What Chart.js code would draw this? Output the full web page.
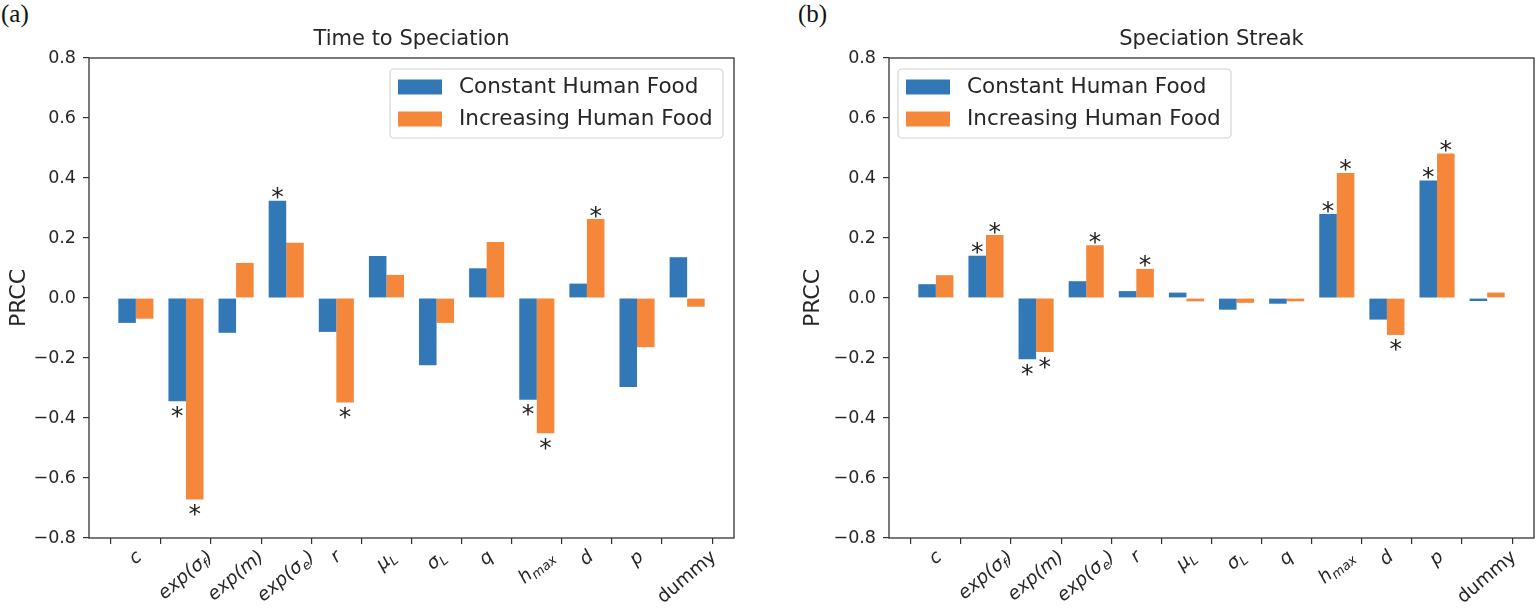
<!DOCTYPE html>
<html>
<head>
<meta charset="utf-8">
<script src="https://cdn.jsdelivr.net/npm/chart.js@4.4.1/dist/chart.umd.min.js"></script>
<style>
  body { margin: 0; background: #fff; width: 1536px; height: 608px; position: relative; overflow: hidden; }
  canvas { position: absolute; top: 0; }
  .panel { position: absolute; top: 0; font-family: "Liberation Serif", serif; font-size: 25px; color: #111; }
</style>
</head>
<body>
<div class="panel" style="left:1px;">(a)</div>
<div class="panel" style="left:798px;">(b)</div>
<canvas id="speciation" width="768" height="608" style="left:0"></canvas>
<canvas id="streak" width="768" height="608" style="left:768px"></canvas>
<script>
// parametres (axe x), underscore = indice
let params = ['c', 'exp(σ_f)', 'exp(m)', 'exp(σ_e)', 'r', 'μ_L', 'σ_L', 'q', 'h_{max}', 'd', 'p', 'dummy'];
let seriesNames = ['Constant Human Food', 'Increasing Human Food'];

// Time to Speciation
let timeConst = [-0.083, -0.344, -0.116, 0.324, -0.113, 0.140, -0.224, 0.099, -0.339, 0.048, -0.297, 0.136];
let timeIncr  = [-0.069, -0.672, 0.117, 0.184, -0.348, 0.077, -0.083, 0.187, -0.451, 0.263, -0.164, -0.029];
let timeSigConst = [0, 1, 0, 1, 0, 0, 0, 0, 1, 0, 0, 0];
let timeSigIncr  = [0, 1, 0, 0, 1, 0, 0, 0, 1, 1, 0, 0];

// Speciation Streak
let streakConst = [0.046, 0.141, -0.204, 0.056, 0.023, 0.018, -0.039, -0.019, 0.280, -0.072, 0.392, -0.010];
let streakIncr  = [0.076, 0.210, -0.180, 0.176, 0.097, -0.011, -0.016, -0.011, 0.417, -0.123, 0.482, 0.018];
let streakSigConst = [0, 1, 1, 0, 0, 0, 0, 0, 1, 0, 1, 0];
let streakSigIncr  = [0, 1, 1, 1, 1, 0, 0, 0, 1, 1, 1, 0];

let yTicks = [-0.8, -0.6, -0.4, -0.2, 0, 0.2, 0.4, 0.6, 0.8];

const BLUE = '#3378b6';
const ORANGE = '#f5873a';
const INK = '#262626';
Chart.defaults.font.family = '"DejaVu Sans", sans-serif';

// decoupe 'h_{max}' -> [{t:'h'}, {t:'max', sub:true}]
function parseLabel(lab) {
    let out = [];
    let i = 0;
    while (i < lab.length) {
        if (lab[i] === '_') {
            if (lab[i + 1] === '{') {
                let end = lab.indexOf('}', i);
                out.push({ t: lab.slice(i + 2, end), sub: true });
                i = end + 1;
            } else {
                out.push({ t: lab[i + 1], sub: true });
                i += 2;
            }
        } else {
            let j = i;
            while (j < lab.length && lab[j] !== '_') j++;
            out.push({ t: lab.slice(i, j), sub: false });
            i = j;
        }
    }
    return out;
}

// label incline 40deg, centre sous le tick (comme matplotlib rotation + ha=center)
function drawTickLabel(ctx, lab, x, top) {
    const size = 18.5;
    const italic = lab !== 'dummy' ? 'italic ' : '';
    const main = italic + size + 'px "DejaVu Sans"';
    const small = italic + Math.round(size * 0.7) + 'px "DejaVu Sans"';
    const segs = parseLabel(lab);
    let w = 0;
    segs.forEach(s => { ctx.font = s.sub ? small : main; s.w = ctx.measureText(s.t).width; w += s.w; });
    const h = size * 0.95;
    const th = 40 * Math.PI / 180;
    const H = w * Math.sin(th) + h * Math.cos(th);
    ctx.save();
    ctx.translate(x, top + H / 2);
    ctx.rotate(-th);
    ctx.fillStyle = INK;
    ctx.textAlign = 'left';
    ctx.textBaseline = 'middle';
    let cx = -w / 2;
    segs.forEach(s => {
        ctx.font = s.sub ? small : main;
        ctx.fillText(s.t, cx, s.sub ? size * 0.28 : 0);
        cx += s.w;
    });
    ctx.restore();
}

const decor = {
    id: 'decor',
    afterDraw(chart, args, opts) {
        const ctx = chart.ctx;
        const a = chart.chartArea;
        ctx.save();
        // cadre
        ctx.strokeStyle = '#333';
        ctx.lineWidth = 1.3;
        ctx.strokeRect(a.left, a.top, a.right - a.left, a.bottom - a.top);

        // titre
        ctx.fillStyle = INK;
        ctx.font = '21px "DejaVu Sans"';
        ctx.textAlign = 'center';
        ctx.textBaseline = 'middle';
        ctx.fillText(opts.title, (a.left + a.right) / 2, 40);

        // labels de l'axe x
        const xs = chart.scales.x;
        params.forEach((lab, i) => drawTickLabel(ctx, lab, xs.getPixelForValue(i), a.bottom + 10));

        // etoiles de significativite
        ctx.font = '25px "DejaVu Sans"';
        ctx.textAlign = 'center';
        ctx.textBaseline = 'alphabetic';
        ctx.fillStyle = '#222';
        chart.data.datasets.forEach((ds, d) => {
            const meta = chart.getDatasetMeta(d);
            ds.sig.forEach((s, i) => {
                if (!s) return;
                const bar = meta.data[i];
                const cy = ds.data[i].y >= 0 ? bar.y - 10 : bar.y + 8;
                ctx.fillText('*', bar.x, cy + 14.5);
            });
        });

        // legende
        const lw = 333, lh = 69;
        const lx = opts.legend === 'right' ? a.right - 11 - lw : a.left + 9;
        const ly = a.top + 11;
        ctx.beginPath();
        if (ctx.roundRect) ctx.roundRect(lx, ly, lw, lh, 4); else ctx.rect(lx, ly, lw, lh);
        ctx.fillStyle = 'rgba(255,255,255,0.85)';
        ctx.fill();
        ctx.strokeStyle = '#d4d4d4';
        ctx.lineWidth = 1.2;
        ctx.stroke();
        ctx.font = '21.5px "DejaVu Sans"';
        ctx.textAlign = 'left';
        ctx.textBaseline = 'middle';
        chart.data.datasets.forEach((ds, d) => {
            const cy = ly + 18 + d * 32;
            ctx.fillStyle = ds.backgroundColor;
            ctx.fillRect(lx + 8, cy - 7.5, 44, 15);
            ctx.fillStyle = INK;
            ctx.fillText(ds.label, lx + 69, cy);
        });
        ctx.restore();
    }
};

function makeChart(id, title, constVals, incrVals, constSig, incrSig, legendSide, yWidth, padRight, titlePad) {
    const ctx = document.getElementById(id).getContext('2d');
    const datas = {
        datasets: [{
            label: seriesNames[0],
            data: constVals.map((v, i) => ({ x: i, y: v })),
            sig: constSig,
            backgroundColor: BLUE,
            borderWidth: 0
        }, {
            label: seriesNames[1],
            data: incrVals.map((v, i) => ({ x: i, y: v })),
            sig: incrSig,
            backgroundColor: ORANGE,
            borderWidth: 0
        }]
    };
    const tickGrid = { display: true, drawOnChartArea: false, drawTicks: true, tickLength: 6, color: '#333', lineWidth: 1.2 };
    return new Chart(ctx, {
        type: 'bar',
        data: datas,
        plugins: [decor],
        options: {
            responsive: false,
            animation: false,
            categoryPercentage: 0.7,
            barPercentage: 1.0,
            layout: { padding: { top: 58, right: padRight, left: 0, bottom: 0 } },
            plugins: {
                legend: { display: false },
                tooltip: { enabled: false },
                decor: { title: title, legend: legendSide }
            },
            scales: {
                x: {
                    type: 'linear',
                    min: -0.935,
                    max: 11.935,
                    offset: false,
                    ticks: { display: false, stepSize: 1, includeBounds: false },
                    grid: tickGrid,
                    border: { display: false },
                    afterBuildTicks: s => {
                        s.ticks = params.map((p, i) => ({ value: i }));
                    },
                    afterFit: s => { s.height = 70; }
                },
                y: {
                    min: -0.8,
                    max: 0.8,
                    afterBuildTicks: s => {
                        s.ticks = yTicks.map(v => ({ value: v }));
                    },
                    ticks: {
                        color: INK,
                        font: { size: 17.5 },
                        padding: 7,
                        callback: v => (Math.abs(v) < 1e-9 ? 0 : v).toFixed(1).replace('-', '\u2212')
                    },
                    grid: tickGrid,
                    border: { display: false },
                    title: { display: true, text: 'PRCC', color: INK, font: { size: 22 }, padding: { top: titlePad, bottom: 0 } },
                    afterFit: s => { s.width = yWidth; }
                }
            }
        }
    });
}

makeChart('speciation', 'Time to Speciation', timeConst, timeIncr, timeSigConst, timeSigIncr, 'right', 89, 34, 6);
makeChart('streak', 'Speciation Streak', streakConst, streakIncr, streakSigConst, streakSigIncr, 'left', 121, 2, 32);
</script>
</body>
</html>
